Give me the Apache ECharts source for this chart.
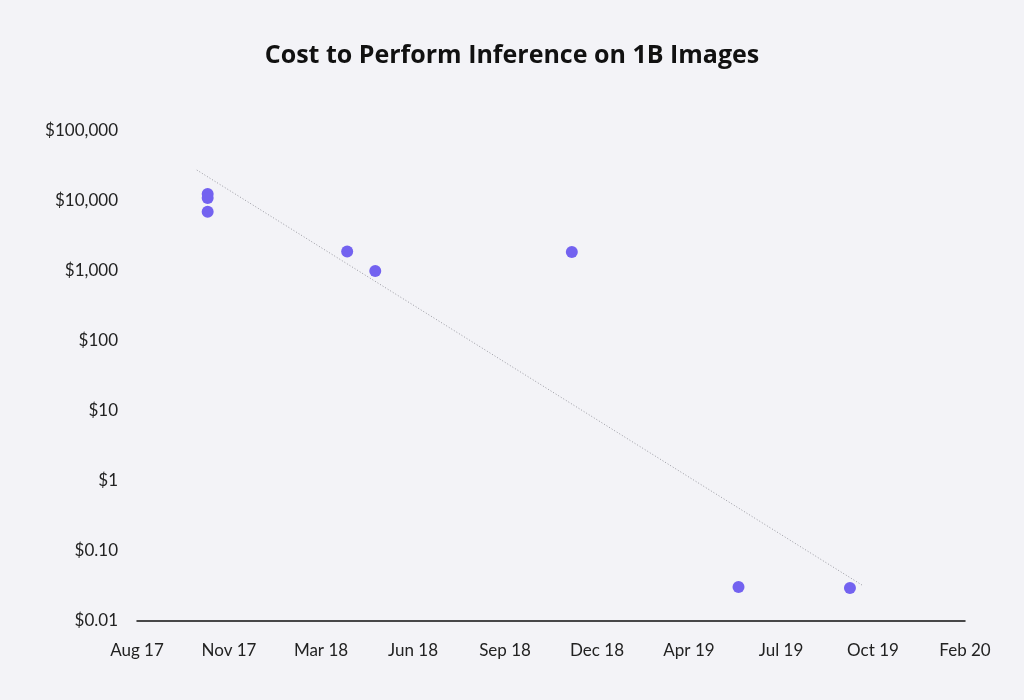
<!DOCTYPE html>
<html>
<head>
<meta charset="utf-8">
<script src="https://cdn.jsdelivr.net/npm/echarts@6/dist/echarts.min.js"></script>
<style>
html,body{margin:0;padding:0;background:#f3f3f7;}
#c{width:1024px;height:700px;}
</style>
</head>
<body>
<div id="c"></div>
<script>
// Data
const title = 'Cost to Perform Inference on 1B Images';
const xTickLabels = ['Aug 17','Nov 17','Mar 18','Jun 18','Sep 18','Dec 18','Apr 19','Jul 19','Oct 19','Feb 20'];
const yTickLabels = {'0.01':'$0.01','0.1':'$0.10','1':'$1','10':'$10','100':'$100','1000':'$1,000','10000':'$10,000','100000':'$100,000'};
const axisStart = '2017-08-01';
const axisEnd = '2020-02-01';
const pointDates = ['2017-10-18','2017-10-18','2017-10-18','2018-03-21','2018-04-21','2018-11-24','2019-05-27','2019-09-27'];
const pointCosts = [12600, 11000, 7000, 1900, 1000, 1870, 0.0306, 0.0296];
const trendDates = ['2017-10-06','2019-10-12'];
const trendCosts = [27700, 0.0316];

const DAY = 86400000;
const t0 = Date.parse(axisStart);
const span = (Date.parse(axisEnd) - t0) / DAY;
const step = span / (xTickLabels.length - 1);
const dayOf = d => (Date.parse(d) - t0) / DAY;

const points = pointDates.map((d, i) => [dayOf(d), pointCosts[i]]);
const trend = trendDates.map((d, i) => [dayOf(d), trendCosts[i]]);

const font = 'Lato, "Noto Sans", sans-serif';
const chart = echarts.init(document.getElementById('c'));
chart.setOption({
  backgroundColor: '#f3f3f7',
  animation: false,
  title: {
    text: title, left: 'center', top: 38,
    textStyle: {fontFamily: '"Open Sans", Lato, sans-serif', fontSize: 25, fontWeight: 'bold', color: '#111'}
  },
  grid: {left: 137, right: 59, top: 131, bottom: 79, containLabel: false},
  xAxis: {
    type: 'value', min: 0, max: span, interval: step,
    axisLine: {show: true, lineStyle: {color: '#111', width: 1.5}},
    axisTick: {show: false},
    splitLine: {show: false},
    axisLabel: {
      margin: 21, fontFamily: font, fontSize: 17, color: '#222',
      formatter: v => xTickLabels[Math.round(v / step)] || ''
    }
  },
  yAxis: {
    type: 'log', logBase: 10, min: 0.01, max: 100000,
    axisLine: {show: false}, axisTick: {show: false}, splitLine: {show: false},
    axisLabel: {
      margin: 19, fontFamily: font, fontSize: 17, color: '#222',
      formatter: v => yTickLabels[String(+v.toPrecision(6))] || ''
    }
  },
  series: [
    {
      type: 'line', data: trend, symbol: 'none', silent: true,
      lineStyle: {color: '#9a9aa2', width: 1, type: [1, 2]}, z: 1
    },
    {
      type: 'scatter', data: points, symbolSize: 12,
      itemStyle: {color: '#7362f0', opacity: 1}, z: 2
    }
  ]
});
</script>
</body>
</html>
